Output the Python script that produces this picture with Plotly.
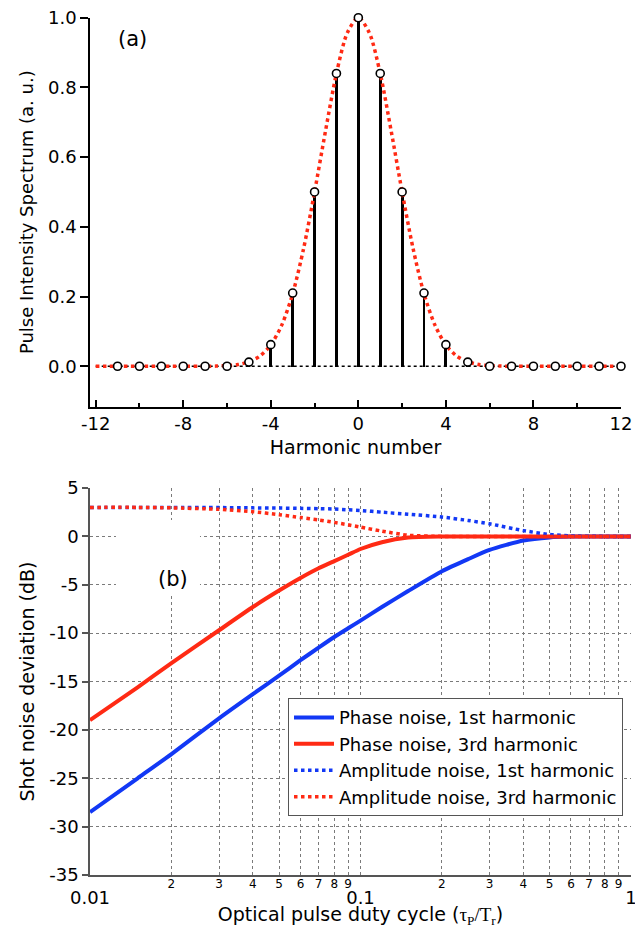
import plotly.graph_objects as go

# ---------------- (a) pulse intensity spectrum ----------------
harmonics = list(range(-11, 13))
spectrum = [0, 0, 0, 0, 0, 0, 0.012, 0.062, 0.21, 0.50, 0.84, 1.0,
            0.84, 0.50, 0.21, 0.062, 0.012, 0, 0, 0, 0, 0, 0, 0]

envelope_x = [-12, -10, -8, -7, -6.5, -6, -5.5, -5, -4.5, -4, -3.5, -3, -2.5, -2,
              -1.5, -1, -0.5, 0, 0.5, 1, 1.5, 2, 2.5, 3, 3.5, 4, 4.5, 5, 5.5, 6,
              6.5, 7, 8, 10, 12]
envelope_y = [0, 0, 0, 0, 0.0005, 0.002, 0.005, 0.013, 0.029, 0.061, 0.118, 0.208,
              0.338, 0.50, 0.675, 0.84, 0.957, 1.0, 0.957, 0.84, 0.675, 0.50, 0.338,
              0.208, 0.118, 0.061, 0.029, 0.013, 0.005, 0.002, 0.0005, 0, 0, 0, 0]

top_xticks = [-12, -8, -4, 0, 4, 8, 12]
top_xtext = ["-12", "-8", "-4", "0", "4", "8", "12"]
top_yticks = [0.0, 0.2, 0.4, 0.6, 0.8, 1.0]
top_ytext = ["0.0", "0.2", "0.4", "0.6", "0.8", "1.0"]

# ---------------- (b) shot noise deviation ----------------
duty = [0.01, 0.015, 0.02, 0.03, 0.04, 0.05, 0.06, 0.07, 0.08, 0.09, 0.1,
        0.12, 0.15, 0.2, 0.25, 0.3, 0.4, 0.5, 0.6, 0.8, 1.0]
phase_1st = [-28.5, -25.0, -22.5, -18.8, -16.3, -14.4, -12.8, -11.5, -10.4, -9.5, -8.7,
             -7.3, -5.65, -3.6, -2.35, -1.4, -0.42, -0.1, -0.02, 0, 0]
phase_3rd = [-19.0, -15.6, -13.1, -9.7, -7.3, -5.6, -4.3, -3.3, -2.55, -1.9, -1.3,
             -0.6, -0.12, -0.01, 0, 0, 0, 0, 0, 0, 0]
amp_1st = [3.0, 3.0, 3.0, 2.98, 2.95, 2.93, 2.9, 2.87, 2.83, 2.75, 2.68,
           2.5, 2.3, 2.0, 1.65, 1.3, 0.6, 0.2, 0.05, 0, 0]
amp_3rd = [3.0, 3.0, 2.95, 2.8, 2.55, 2.25, 1.95, 1.7, 1.45, 1.2, 0.96,
           0.55, 0.12, 0, 0, 0, 0, 0, 0, 0, 0]

major_vals = [0.01, 0.1, 1]
major_text = ["0.01", "0.1", "1"]
minor_vals = [0.02, 0.03, 0.04, 0.05, 0.06, 0.07, 0.08, 0.09,
              0.2, 0.3, 0.4, 0.5, 0.6, 0.7, 0.8, 0.9]
minor_text = ["2", "3", "4", "5", "6", "7", "8", "9",
              "2", "3", "4", "5", "6", "7", "8", "9"]
bottom_yticks = [5, 0, -5, -10, -15, -20, -25, -30, -35]
bottom_ytext = ["5", "0", "-5", "-10", "-15", "-20", "-25", "-30", "-35"]

BLUE = "#1238f5"
RED = "#ff2a14"
FONT = "DejaVu Sans"
GRID = "#7a7a7a"

fig = go.Figure()

# stems
fig.add_trace(go.Bar(x=harmonics, y=spectrum, width=0.13, marker_color="black",
                     marker_line_width=0, showlegend=False, xaxis="x", yaxis="y"))
# baseline
fig.add_trace(go.Scatter(x=[-12, 12], y=[0, 0], mode="lines",
                         line=dict(color="black", width=1.5, dash="dot"),
                         showlegend=False, xaxis="x", yaxis="y"))
# envelope
fig.add_trace(go.Scatter(x=envelope_x, y=envelope_y, mode="lines",
                         line=dict(color=RED, width=3.5, dash="dot", shape="spline", smoothing=0.8),
                         showlegend=False, xaxis="x", yaxis="y"))
# circles
fig.add_trace(go.Scatter(x=harmonics, y=spectrum, mode="markers",
                         marker=dict(symbol="circle", size=8, color="white",
                                     line=dict(color="black", width=1.6)),
                         cliponaxis=False, showlegend=False, xaxis="x", yaxis="y"))

# bottom curves
fig.add_trace(go.Scatter(x=duty, y=phase_1st, mode="lines", name="Phase noise, 1st harmonic",
                         line=dict(color=BLUE, width=4, shape="spline", smoothing=0.6),
                         xaxis="x2", yaxis="y2"))
fig.add_trace(go.Scatter(x=duty, y=phase_3rd, mode="lines", name="Phase noise, 3rd harmonic",
                         line=dict(color=RED, width=4, shape="spline", smoothing=0.6),
                         xaxis="x2", yaxis="y2"))
fig.add_trace(go.Scatter(x=duty, y=amp_1st, mode="lines", name="Amplitude noise, 1st harmonic",
                         line=dict(color=BLUE, width=3.5, dash="dot", shape="spline", smoothing=0.6),
                         xaxis="x2", yaxis="y2"))
fig.add_trace(go.Scatter(x=duty, y=amp_3rd, mode="lines", name="Amplitude noise, 3rd harmonic",
                         line=dict(color=RED, width=3.5, dash="dot", shape="spline", smoothing=0.6),
                         xaxis="x3", yaxis="y2"))

# the page body adds an 8px margin, so the figure is offset by 8px from the window edge
fig.update_layout(
    width=635, height=920,
    margin=dict(l=82, r=12, t=9, b=53, autoexpand=False),
    paper_bgcolor="white", plot_bgcolor="white",
    font=dict(family=FONT, color="black", size=18),
    bargap=0,
    xaxis=dict(domain=[0, 0.9815], anchor="y", range=[-12.26, 12],
               tickvals=top_xticks, ticktext=top_xtext, ticks="inside", ticklen=7, tickwidth=1.5,
               tickcolor="black",
               minor=dict(dtick=2, tick0=0, ticks="inside", ticklen=4, tickwidth=1.5,
                          tickcolor="black", showgrid=False),
               showline=True, linecolor="black", linewidth=1.5,
               showgrid=False, zeroline=False, automargin=False,
               ticklabeloverflow="allow",
               tickfont=dict(size=18),
               title=dict(text="Harmonic number", font=dict(size=19), standoff=8)),
    yaxis=dict(domain=[0.5458, 0.9992], anchor="x", range=[-0.116, 1.0],
               tickvals=top_yticks, ticktext=top_ytext, ticks="outside", ticklen=8,
               tickwidth=1.5, tickcolor="black",
               showline=True, linecolor="black", linewidth=1.5,
               showgrid=False, zeroline=False, automargin=False,
               ticklabeloverflow="allow",
               tickfont=dict(size=18),
               title=dict(text="Pulse Intensity Spectrum (a. u.)", font=dict(size=18), standoff=10)),
    xaxis2=dict(domain=[0, 1], anchor="y2", type="log", range=[-2, 0],
                tickvals=major_vals, ticktext=major_text, ticks="",
                ticklabelstandoff=6, ticklabeloverflow="allow",
                showline=True, linecolor="#555", linewidth=1.5,
                showgrid=True, gridcolor=GRID, griddash="dot", gridwidth=1,
                zeroline=False, automargin=False, tickfont=dict(size=18),
                title=dict(text="Optical pulse duty cycle (<span style=\"font-family:Liberation Serif\">τ<sub>P</sub>/T<sub>r</sub></span>)",
                           font=dict(size=19), standoff=8)),
    xaxis3=dict(overlaying="x2", anchor="y2", type="log", range=[-2, 0],
                tickvals=minor_vals, ticktext=minor_text, ticks="",
                showline=False, showgrid=True, gridcolor=GRID, griddash="dot",
                gridwidth=1, zeroline=False, automargin=False, ticklabeloverflow="allow",
                tickfont=dict(size=12), side="bottom"),
    yaxis2=dict(domain=[0, 0.4510], anchor="x2", range=[-35, 5],
                tickvals=bottom_yticks, ticktext=bottom_ytext, ticks="outside", ticklen=6, tickwidth=1.5,
                tickcolor="#555", ticklabeloverflow="allow",
                showline=True, linecolor="#555", linewidth=1.5,
                showgrid=True, gridcolor=GRID, griddash="dot", gridwidth=1,
                zeroline=False, automargin=False, tickfont=dict(size=18),
                title=dict(text="Shot noise deviation (dB)", font=dict(size=19), standoff=10)),
    legend=dict(x=0.366, y=0.206, xanchor="left", yanchor="top",
                bgcolor="white", bordercolor="#555", borderwidth=1,
                font=dict(size=18), itemwidth=40, tracegroupgap=0),
    shapes=[
        dict(type="rect", xref="x2 domain", yref="y2 domain",
             x0=0.048, x1=0.2033, y0=0.7235, y1=0.9173,
             fillcolor="white", line=dict(width=0), layer="above"),
    ],
    annotations=[
        dict(text="(a)", x=-10.34, y=0.939, xref="x", yref="y", showarrow=False,
             font=dict(size=21)),
        dict(text="(b)", x=0.122, y=0.801, xref="x2 domain", yref="y2 domain",
             showarrow=False, font=dict(size=21)),
    ],
)

fig.write_html("out.html")
